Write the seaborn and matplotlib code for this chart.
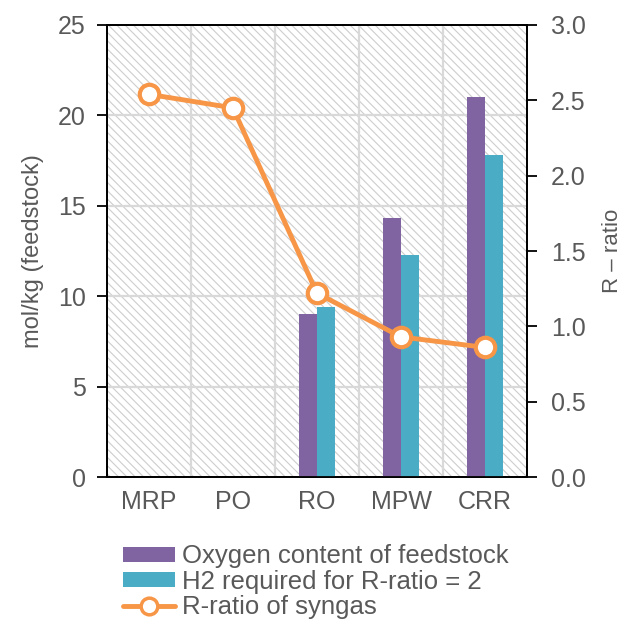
import numpy as np
import pandas as pd
import matplotlib
matplotlib.use("Agg")
import matplotlib.pyplot as plt
from matplotlib.patches import Rectangle, Patch
from matplotlib.lines import Line2D
import seaborn as sns

sns.set_style("white")
plt.rcParams["font.family"] = ["Liberation Sans", "DejaVu Sans"]
plt.rcParams["hatch.linewidth"] = 0.8
plt.rcParams["hatch.color"] = "#cdcdcd"

categories = ["MRP", "PO", "RO", "MPW", "CRR"]
oxygen_content = [np.nan, np.nan, 9.0, 14.3, 21.0]
h2_required = [np.nan, np.nan, 9.4, 12.3, 17.8]
r_ratio = [2.54, 2.45, 1.22, 0.93, 0.86]

series_names = ["Oxygen content of feedstock", "H2 required for R-ratio = 2"]
line_name = "R-ratio of syngas"

purple = "#8064A2"
cyan = "#4BACC6"
orange = "#F79646"
text_gray = "#595959"

bars = pd.DataFrame({
    "category": categories * 2,
    "series": [series_names[0]] * len(categories) + [series_names[1]] * len(categories),
    "value": oxygen_content + h2_required,
})
line = pd.DataFrame({"category": categories, "ratio": r_ratio})

fig = plt.figure(figsize=(6.32, 6.20), dpi=100)
ax = fig.add_axes([0.169, 0.2306, 0.665, 0.7291])

# hatched plot-area background
ax.add_patch(Rectangle((0, 0), 1, 1, transform=ax.transAxes, facecolor="white",
                       hatch="\\\\\\\\", edgecolor="#cdcdcd", linewidth=0, zorder=0))

sns.barplot(data=bars, x="category", y="value", hue="series", order=categories,
            hue_order=series_names, palette=[purple, cyan], width=0.43,
            saturation=1, dodge=True, legend=False, linewidth=0, ax=ax, zorder=3)

ax.set_xlim(-0.5, len(categories) - 0.5)
ax.set_ylim(0, 25)
ax.set_yticks(np.arange(0, 26, 5))
ax.set_xlabel("")
ax.set_ylabel("mol/kg (feedstock)", fontsize=17, color=text_gray, labelpad=10)

# grid: horizontal at value ticks, vertical at category boundaries
for y in range(5, 25, 5):
    ax.axhline(y, color="#d9d9d9", lw=1.6, zorder=1)
for b in np.arange(0.5, len(categories) - 0.5, 1):
    ax.axvline(b, color="#d9d9d9", lw=1.6, zorder=1)

ax.set_xticks(np.arange(-0.5, len(categories), 1), minor=True)
ax.tick_params(axis="x", which="major", length=0, labelsize=18, labelcolor=text_gray, pad=9)
ax.tick_params(axis="x", which="minor", length=7, width=1.3, color="black", direction="out")
ax.tick_params(axis="y", length=7, width=1.3, color="black", direction="out",
               labelsize=18, labelcolor=text_gray, pad=8)
for s in ax.spines.values():
    s.set_color("black")
    s.set_linewidth(1.3)

ax2 = ax.twinx()
sns.lineplot(data=line, x="category", y="ratio", ax=ax2, color=orange, lw=3.5,
             marker="o", markersize=14, markerfacecolor="white",
             markeredgecolor=orange, markeredgewidth=3, zorder=5)
ax2.set_ylim(0, 3.0)
ax2.set_yticks(np.arange(0, 3.01, 0.5))
ax2.set_yticklabels([f"{v:.1f}" for v in np.arange(0, 3.01, 0.5)])
ax2.set_xlim(-0.5, len(categories) - 0.5)
ax2.set_ylabel("R – ratio", fontsize=16, color=text_gray, labelpad=12)
ax2.tick_params(axis="y", length=7, width=1.3, color="black", direction="out",
                labelsize=18, labelcolor=text_gray, pad=10)
for s in ax2.spines.values():
    s.set_color("black")
    s.set_linewidth(1.3)

handles = [
    Patch(facecolor=purple, edgecolor="none"),
    Patch(facecolor=cyan, edgecolor="none"),
    Line2D([0], [0], color=orange, lw=3.5, marker="o", markersize=12,
           markerfacecolor="white", markeredgecolor=orange, markeredgewidth=2.5),
]
fig.legend(handles, series_names + [line_name], loc="upper left",
           bbox_to_anchor=(0.195, 0.122), frameon=False, fontsize=18.5,
           labelcolor=text_gray, handlelength=2.0, handleheight=0.55,
           handletextpad=0.3, labelspacing=0.05, borderpad=0, borderaxespad=0)

fig.savefig("out.png", dpi=100)
